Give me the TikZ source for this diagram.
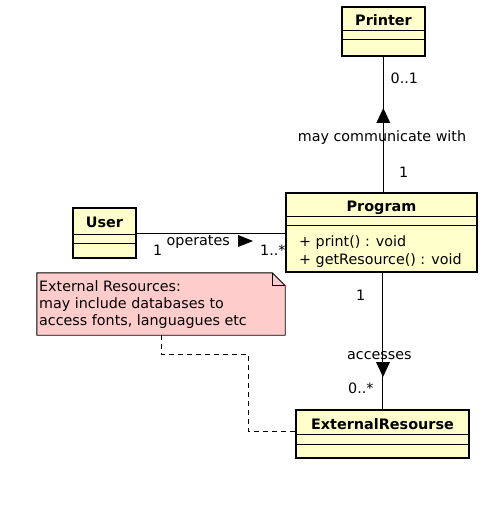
\documentclass[tikz,border=0pt]{standalone}
\usepackage{fontspec}
\setmainfont{DejaVu Sans}
\usetikzlibrary{calc}
\definecolor{classfill}{RGB}{255,255,204}
\definecolor{notefill}{RGB}{255,204,204}
\begin{document}
\begin{tikzpicture}[x=1pt,y=-1pt,
  classbox/.style={draw=black, line width=2.4pt, fill=classfill, inner sep=0pt},
  divider/.style={line width=1.3pt},
  title/.style={font=\fontsize{14.4}{17}\bfseries\selectfont, anchor=base, inner sep=0pt},
  lbl/.style={font=\fontsize{14.3}{17}\selectfont, anchor=base west, inner sep=0pt},
  clbl/.style={font=\fontsize{14.3}{17}\selectfont, anchor=base, inner sep=0pt},
  assoc/.style={line width=0.9pt},
  tri/.style={fill=black},
  notebox/.style={fill=notefill, draw=black, line width=0.9pt},
  notelink/.style={line width=0.9pt, dash pattern=on 5pt off 4pt},
]
\useasboundingbox[fill=white] (0,0) rectangle (486,505);

% Printer
\node[classbox, minimum width=83pt, minimum height=49pt] (printer) at (383.5,31.5) {};
\draw[divider] ($(printer.north west)+(0,25)$) -- ($(printer.north east)+(0,25)$);
\draw[divider] ($(printer.north west)+(0,34)$) -- ($(printer.north east)+(0,34)$);
\node[title] (printerT) at (383.5,26) {Printer};

% User
\node[classbox, minimum width=63pt, minimum height=50pt] (user) at (104.5,233) {};
\draw[divider] ($(user.north west)+(0,28)$) -- ($(user.north east)+(0,28)$);
\draw[divider] ($(user.north west)+(0,37)$) -- ($(user.north east)+(0,37)$);
\node[title] (userT) at (104.5,227) {User};

% Program
\node[classbox, minimum width=191pt, minimum height=79pt] (program) at (381.5,232.5) {};
\draw[divider] ($(program.north west)+(0,25)$) -- ($(program.north east)+(0,25)$);
\draw[divider] ($(program.north west)+(0,34)$) -- ($(program.north east)+(0,34)$);
\node[title] (programT) at (381.5,211) {Program};
\node[lbl] (m1) at (299,246.5) {+ print() : void};
\node[lbl] (m2) at (299,264) {+ getResource() : void};

% ExternalResourse
\node[classbox, minimum width=173pt, minimum height=48pt] (extres) at (382.5,434) {};
\draw[divider] ($(extres.north west)+(0,26)$) -- ($(extres.north east)+(0,26)$);
\draw[divider] ($(extres.north west)+(0,36)$) -- ($(extres.north east)+(0,36)$);
\node[title] (extresT) at (382.5,429) {ExternalResourse};

% Note
\node[minimum width=248pt, minimum height=62pt, inner sep=0pt] (note) at (161,304) {};
\path[notebox] (note.north west) -- ($(note.north east)+(-13,0)$) -- ($(note.north east)+(0,13)$)
  -- (note.south east) -- (note.south west) -- cycle;
\draw[line width=0.9pt] ($(note.north east)+(-13,0)$) -- ($(note.north east)+(-13,13)$) -- ($(note.north east)+(0,13)$);
\node[lbl] (n1) at (39,291.5) {External Resources:};
\node[lbl] (n2) at (39,308.5) {may include databases to};
\node[lbl] (n3) at (39,325.5) {access fonts, languagues etc};

% Program -> Printer
\draw[assoc] (printer.south |- program.north) -- (printer.south);
\fill[tri] (383.3,108) -- (376.3,123) -- (390.3,123) -- cycle;
\node[lbl] (l01) at (390.5,84) {0..1};
\node[clbl] (lmay) at (382,141.5) {may communicate with};
\node[lbl] (l1a) at (399,177.3) {1};

% User -> Program
\draw[assoc] (user.east) -- (user.east -| program.west);
\fill[tri] (253,241) -- (238,235) -- (238,247) -- cycle;
\node[lbl] (lop) at (166.5,245.5) {operates};
\node[lbl] (l1b) at (153,255.5) {1};
\node[lbl] (l1s) at (260,255.5) {1..*};

% Program -> ExternalResourse
\draw[assoc] (extres.north |- program.south) -- (extres.north);
\fill[tri] (383,377) -- (376,362) -- (390,362) -- cycle;
\node[lbl] (lacc) at (347,359) {accesses};
\node[lbl] (l1c) at (356,300.5) {1};
\node[lbl] (l0s) at (348,393.3) {0..*};

% Note link
\coordinate (d1) at (248,354);
\coordinate (d2) at (248,431);
\draw[notelink] (note.south) |- (d1) -- (d2) -- (d2 -| extres.west);
\end{tikzpicture}
\end{document}
